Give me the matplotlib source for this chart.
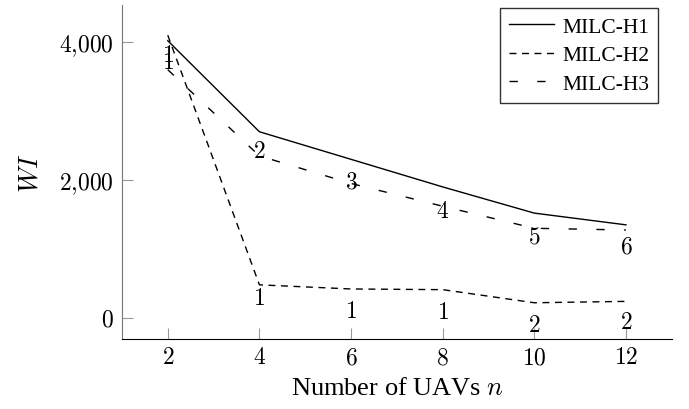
import matplotlib.pyplot as plt
from matplotlib.ticker import FuncFormatter

plt.rcParams['font.family'] = ['Liberation Serif', 'DejaVu Serif']
plt.rcParams['mathtext.fontset'] = 'cm'

# data
n_uavs = [2, 4, 6, 8, 10, 12]
wi_h1 = [4020, 2700, 2300, 1900, 1520, 1350]
wi_h2 = [4100, 480, 420, 410, 220, 240]
wi_h3 = [3600, 2350, 1950, 1620, 1300, 1275]

# text marks next to the lines
h2_marks = ['1', '1', '1', '1', '2', '2']
h2_mark_y = [3700, 275, 100, 85, -115, -70]
h3_marks = ['1', '2', '3', '4', '5', '6']
h3_mark_y = [3800, 2420, 1970, 1550, 1170, 1030]

x_ticks = [2, 4, 6, 8, 10, 12]
y_ticks = [0, 2000, 4000]

fig = plt.figure(figsize=(6.89, 4.10), dpi=100)
ax = fig.add_axes([0.177, 0.171, 0.798, 0.814])

ax.plot(n_uavs, wi_h1, color='black', linewidth=1.0, linestyle='-', label='MILC-H1')
ax.plot(n_uavs, wi_h2, color='black', linewidth=1.0, linestyle=(0, (5, 4)), label='MILC-H2')
ax.plot(n_uavs, wi_h3, color='black', linewidth=1.0, linestyle=(0, (6, 14)), label='MILC-H3')

for x, y, s in zip(n_uavs, h2_mark_y, h2_marks):
    ax.text(x, y, f'${s}$', ha='center', va='center', fontsize=17)
for x, y, s in zip(n_uavs, h3_mark_y, h3_marks):
    ax.text(x, y, f'${s}$', ha='center', va='center', fontsize=17)

ax.set_xlim(1, 13)
ax.set_ylim(-304, 4536)
ax.set_xticks(x_ticks)
ax.set_yticks(y_ticks)
ax.xaxis.set_major_formatter(FuncFormatter(lambda v, p: f'${v:.0f}$'))
ax.yaxis.set_major_formatter(FuncFormatter(lambda v, p: '$' + f'{v:,.0f}'.replace(',', '{,}') + '$'))
ax.tick_params(direction='in', length=8, color='#999999', labelsize=17, pad=6)

ax.spines['top'].set_visible(False)
ax.spines['right'].set_visible(False)
ax.spines['left'].set_color('#777777')
ax.spines['bottom'].set_color('black')

ax.set_xlabel('Number of UAVs $n$', fontsize=19, labelpad=6)
ax.set_ylabel('$WI$', fontsize=19, labelpad=12)

leg = ax.legend(loc='upper right', fontsize=15.5, frameon=True, fancybox=False,
                edgecolor='black', handlelength=2.1, handletextpad=0.4,
                borderpad=0.4, labelspacing=0.4, bbox_to_anchor=(0.995, 1.024))
leg.get_frame().set_linewidth(1.0)

fig.savefig('out.png', dpi=100)
